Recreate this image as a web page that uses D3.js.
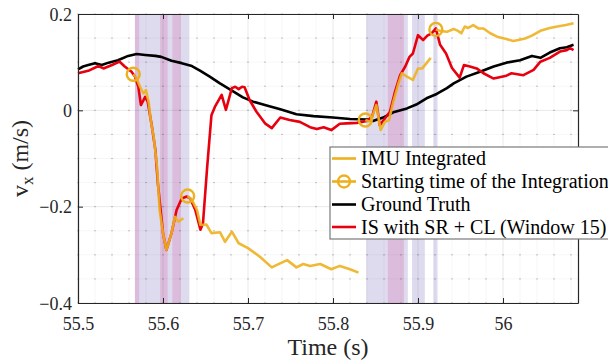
<!DOCTYPE html>
<html>
<head>
<meta charset="utf-8">
<script src="https://cdn.jsdelivr.net/npm/d3@7"></script>
<style>
  body { margin: 0; background: #fff; }
  svg { display: block; font-family: "Liberation Serif", "Times New Roman", serif; }
  svg text { font-family: "Liberation Serif", "Times New Roman", serif; }
</style>
</head>
<body>
<svg id="chart" width="608" height="360"></svg>
<script>
// Axis ticks
const timeTicks = [55.5, 55.6, 55.7, 55.8, 55.9, 56];
const velTicks = [0.2, 0, -0.2, -0.4];

// Shaded windows (start, end) in seconds
const lavenderBands = [[55.567, 55.631], [55.839, 55.864], [55.8835, 55.888], [55.893, 55.908], [55.918, 55.923]];
const pinkBands = [[55.567, 55.572], [55.5965, 55.6055], [55.611, 55.621], [55.864, 55.8835]];

// Ground truth [time, vx]
const groundTruth = [
  [55.500, 0.085], [55.506, 0.091], [55.512, 0.094], [55.520, 0.098], [55.528, 0.094],
  [55.536, 0.099], [55.547, 0.104], [55.559, 0.113], [55.569, 0.117], [55.579, 0.115],
  [55.591, 0.113], [55.598, 0.111], [55.610, 0.103], [55.622, 0.098], [55.634, 0.092],
  [55.644, 0.082], [55.655, 0.070], [55.667, 0.056], [55.683, 0.039], [55.694, 0.027],
  [55.706, 0.018], [55.722, 0.010], [55.738, 0.002], [55.757, -0.008], [55.777, -0.012],
  [55.800, -0.015], [55.820, -0.018], [55.840, -0.019], [55.847, -0.022], [55.859, -0.015],
  [55.871, -0.004], [55.887, 0.004], [55.898, 0.012], [55.910, 0.025], [55.922, 0.034],
  [55.934, 0.046], [55.942, 0.056], [55.957, 0.070], [55.973, 0.080], [55.989, 0.091],
  [56.004, 0.099], [56.020, 0.104], [56.034, 0.113], [56.044, 0.109], [56.055, 0.120],
  [56.067, 0.129], [56.075, 0.131], [56.083, 0.136]
];

// IS with SR + CL (Window 15)
const isSrCl = [
  [55.500, 0.077], [55.512, 0.082], [55.524, 0.092], [55.530, 0.087], [55.540, 0.094],
  [55.549, 0.101], [55.555, 0.091], [55.563, 0.080], [55.567, 0.070], [55.571, 0.049],
  [55.574, 0.011], [55.579, 0.028], [55.582, 0.018], [55.587, -0.034], [55.591, -0.082],
  [55.594, -0.152], [55.600, -0.255], [55.604, -0.290], [55.610, -0.255], [55.616, -0.207],
  [55.622, -0.183], [55.628, -0.179], [55.632, -0.183], [55.638, -0.207], [55.644, -0.248],
  [55.647, -0.235], [55.652, -0.117], [55.657, -0.010], [55.661, 0.007], [55.669, 0.032],
  [55.674, 0.001], [55.681, 0.046], [55.685, 0.049], [55.689, 0.044], [55.693, 0.049],
  [55.696, 0.048], [55.702, 0.021], [55.710, -0.003], [55.720, -0.027], [55.728, -0.037],
  [55.738, -0.015], [55.749, -0.020], [55.761, -0.024], [55.773, -0.035], [55.781, -0.039],
  [55.789, -0.035], [55.798, -0.041], [55.808, -0.028], [55.816, -0.027], [55.828, -0.026],
  [55.840, -0.022], [55.846, -0.013], [55.851, 0.018], [55.855, -0.031], [55.861, -0.017],
  [55.867, -0.003], [55.873, 0.039], [55.879, 0.073], [55.885, 0.091], [55.890, 0.111],
  [55.894, 0.118], [55.900, 0.156], [55.906, 0.146], [55.911, 0.155], [55.916, 0.160],
  [55.921, 0.170], [55.926, 0.136], [55.933, 0.118], [55.940, 0.088], [55.949, 0.068],
  [55.954, 0.094], [55.961, 0.091], [55.969, 0.087], [55.977, 0.077], [55.989, 0.066],
  [56.004, 0.072], [56.010, 0.077], [56.024, 0.073], [56.036, 0.084], [56.044, 0.101],
  [56.055, 0.109], [56.067, 0.122], [56.075, 0.125], [56.079, 0.129], [56.083, 0.125]
];

// IMU integrated segments, each one starts at a starting time
const imuSeg1 = [
  [55.565, 0.075], [55.569, 0.066], [55.573, 0.049], [55.577, 0.035], [55.580, 0.042],
  [55.583, 0.018], [55.586, -0.026], [55.589, -0.055], [55.593, -0.117], [55.596, -0.207],
  [55.600, -0.255], [55.604, -0.290], [55.610, -0.255], [55.614, -0.221], [55.618, -0.231],
  [55.624, -0.224]
];
const imuSeg2 = [
  [55.629, -0.178], [55.634, -0.186], [55.640, -0.207], [55.644, -0.238], [55.651, -0.237],
  [55.657, -0.255], [55.667, -0.253], [55.673, -0.273], [55.681, -0.252], [55.689, -0.276],
  [55.700, -0.286], [55.714, -0.304], [55.728, -0.326], [55.734, -0.321], [55.746, -0.311],
  [55.757, -0.326], [55.765, -0.319], [55.773, -0.323], [55.785, -0.319], [55.798, -0.330],
  [55.808, -0.323], [55.820, -0.330], [55.830, -0.337]
];
const imuSeg3 = [
  [55.838, -0.020], [55.844, -0.024], [55.851, 0.011], [55.856, -0.041], [55.861, -0.024],
  [55.866, -0.020], [55.871, 0.018], [55.877, 0.056], [55.881, 0.077], [55.887, 0.070],
  [55.894, 0.063], [55.900, 0.087], [55.905, 0.087], [55.910, 0.098], [55.915, 0.109]
];
const imuSeg4 = [
  [55.921, 0.168], [55.926, 0.165], [55.934, 0.163], [55.942, 0.169], [55.947, 0.165],
  [55.951, 0.160], [55.955, 0.174], [55.959, 0.171], [55.965, 0.177], [55.971, 0.170],
  [55.977, 0.170], [55.985, 0.160], [55.993, 0.153], [56.004, 0.148], [56.012, 0.144],
  [56.018, 0.146], [56.026, 0.149], [56.034, 0.155], [56.044, 0.165], [56.055, 0.171],
  [56.064, 0.174], [56.074, 0.177], [56.083, 0.181]
];
const imuSegments = [imuSeg1, imuSeg2, imuSeg3, imuSeg4];

const legendLabels = ["IMU Integrated", "Starting time of the Integration", "Ground Truth", "IS with SR + CL (Window 15)"];

// Colours
const yellow = "#EDB120";
const red = "#E8000E";

// Plot area
const plotLeft = 78, plotRight = 578, plotTop = 14, plotBottom = 303;

const svg = d3.select("#chart");

const x = d3.scaleLinear().domain([55.5, 55.5 + (plotRight - plotLeft) / 850]).range([plotLeft, plotRight]);
const y = d3.scaleLinear().domain([-0.4, 0.2]).range([plotBottom, plotTop]);

// Shaded windows
svg.append("g").selectAll("rect")
  .data(lavenderBands)
  .join("rect")
  .attr("x", d => x(d[0]))
  .attr("width", d => x(d[1]) - x(d[0]))
  .attr("y", plotTop)
  .attr("height", plotBottom - plotTop)
  .attr("fill", "#dedbef");

svg.append("g").selectAll("rect")
  .data(pinkBands)
  .join("rect")
  .attr("x", d => x(d[0]))
  .attr("width", d => x(d[1]) - x(d[0]))
  .attr("y", plotTop)
  .attr("height", plotBottom - plotTop)
  .attr("fill", "#dcbcdc");

// Grid: minor every 0.02 s / 0.05 m/s, major at ticks
const minorX = d3.range(55.5, 56.09, 0.02);
const minorY = d3.range(-0.4, 0.2001, 0.05);
const grid = svg.append("g");
grid.selectAll(".mx").data(minorX).join("line")
  .attr("x1", d => x(d)).attr("x2", d => x(d))
  .attr("y1", plotTop).attr("y2", plotBottom)
  .attr("stroke", "#000").attr("stroke-opacity", 0.035);
grid.selectAll(".my").data(minorY).join("line")
  .attr("y1", d => y(d)).attr("y2", d => y(d))
  .attr("x1", plotLeft).attr("x2", plotRight)
  .attr("stroke", "#000").attr("stroke-opacity", 0.035);
grid.selectAll(".gx").data(timeTicks).join("line")
  .attr("x1", d => x(d)).attr("x2", d => x(d))
  .attr("y1", plotTop).attr("y2", plotBottom)
  .attr("stroke", "#000").attr("stroke-opacity", 0.06);
grid.selectAll(".gy").data(velTicks).join("line")
  .attr("y1", d => y(d)).attr("y2", d => y(d))
  .attr("x1", plotLeft).attr("x2", plotRight)
  .attr("stroke", "#000").attr("stroke-opacity", 0.06);

// dotted look of the minor grid: dots at crossings
const dots = [];
minorX.forEach(a => minorY.forEach(b => dots.push([a, b])));
grid.selectAll(".dot").data(dots).join("rect")
  .attr("x", d => x(d[0]) - 0.6)
  .attr("y", d => y(d[1]) - 0.6)
  .attr("width", 1.2).attr("height", 1.2)
  .attr("fill", "#000").attr("fill-opacity", 0.3);

// Lines
const line = d3.line().x(d => x(d[0])).y(d => y(d[1]));

svg.append("path")
  .datum(groundTruth)
  .attr("d", line)
  .attr("fill", "none")
  .attr("stroke", "#000")
  .attr("stroke-width", 2.6)
  .attr("stroke-linejoin", "round");

svg.append("path")
  .datum(isSrCl)
  .attr("d", line)
  .attr("fill", "none")
  .attr("stroke", red)
  .attr("stroke-width", 2.6)
  .attr("stroke-linejoin", "round");

svg.append("g").selectAll("path")
  .data(imuSegments)
  .join("path")
  .attr("d", line)
  .attr("fill", "none")
  .attr("stroke", yellow)
  .attr("stroke-opacity", 0.9)
  .attr("stroke-width", 2.6)
  .attr("stroke-linejoin", "round");

// Starting points = first sample of every segment
svg.append("g").selectAll("circle")
  .data(imuSegments.map(s => s[0]))
  .join("circle")
  .attr("cx", d => x(d[0]))
  .attr("cy", d => y(d[1]))
  .attr("r", 6.5)
  .attr("fill", "none")
  .attr("stroke", yellow)
  .attr("stroke-width", 2.4);

// Axes (MATLAB style, ticks inside, box all round)
const axisColor = "#262626";
const xAxisB = svg.append("g")
  .attr("transform", `translate(0,${plotBottom})`)
  .call(d3.axisBottom(x).tickValues(timeTicks).tickSizeInner(-5).tickSizeOuter(0).tickPadding(14)
    .tickFormat(d => d3.format("")(+d.toFixed(1))));
const xAxisT = svg.append("g")
  .attr("transform", `translate(0,${plotTop})`)
  .call(d3.axisTop(x).tickValues(timeTicks).tickSizeInner(-5).tickSizeOuter(0).tickFormat(""));
const yAxisL = svg.append("g")
  .attr("transform", `translate(${plotLeft},0)`)
  .call(d3.axisLeft(y).tickValues(velTicks).tickSizeInner(-5).tickSizeOuter(0).tickPadding(6)
    .tickFormat(d => d === 0 ? "0" : d3.format(".1f")(d)));
const yAxisR = svg.append("g")
  .attr("transform", `translate(${plotRight},0)`)
  .call(d3.axisRight(y).tickValues(velTicks).tickSizeInner(-5).tickSizeOuter(0).tickFormat(""));

[xAxisB, xAxisT, yAxisL, yAxisR].forEach(a => {
  a.attr("font-family", null).attr("font-size", null);
  a.select(".domain").attr("stroke", axisColor).attr("stroke-width", 1.2);
  a.selectAll(".tick line").attr("stroke", axisColor);
  a.selectAll("text")
    .attr("fill", axisColor)
    .style("font-family", "'Liberation Serif', 'Times New Roman', serif")
    .style("font-size", "18px");
});
yAxisL.selectAll("text").attr("dy", "0.35em");

// Axis titles
svg.append("text")
  .attr("x", (plotLeft + plotRight) / 2)
  .attr("y", 355)
  .attr("text-anchor", "middle")
  .attr("fill", axisColor)
  .style("font-size", "24px")
  .text("Time (s)");

const yTitle = svg.append("text")
  .attr("transform", `translate(28,${(plotTop + plotBottom) / 2}) rotate(-90)`)
  .attr("text-anchor", "middle")
  .attr("fill", axisColor)
  .style("font-size", "24px");
yTitle.append("tspan").text("v");
yTitle.append("tspan").attr("dy", 5).style("font-size", "17px").text("x");
yTitle.append("tspan").attr("dy", -5).text(" (m/s)");

// Legend
const lg = svg.append("g").attr("transform", "translate(330,147)");
lg.append("rect")
  .attr("width", 300).attr("height", 92)
  .attr("fill", "#fff")
  .attr("stroke", "#7a7a7a")
  .attr("stroke-width", 1.2);

const rowY = [11.5, 34.5, 57.5, 80];
const rowColors = [yellow, yellow, "#000", red];
lg.selectAll(".sample").data(legendLabels).join("line")
  .attr("x1", 2).attr("x2", 26)
  .attr("y1", (d, i) => rowY[i]).attr("y2", (d, i) => rowY[i])
  .attr("stroke", (d, i) => rowColors[i])
  .attr("stroke-width", 2.6);
lg.append("circle")
  .attr("cx", 14).attr("cy", rowY[1]).attr("r", 6)
  .attr("fill", "none").attr("stroke", yellow).attr("stroke-width", 2.4);
lg.selectAll(".label").data(legendLabels).join("text")
  .attr("x", 31)
  .attr("y", (d, i) => rowY[i] + 6.5)
  .attr("fill", "#000")
  .style("font-size", "20px")
  .text(d => d);
</script>
</body>
</html>
